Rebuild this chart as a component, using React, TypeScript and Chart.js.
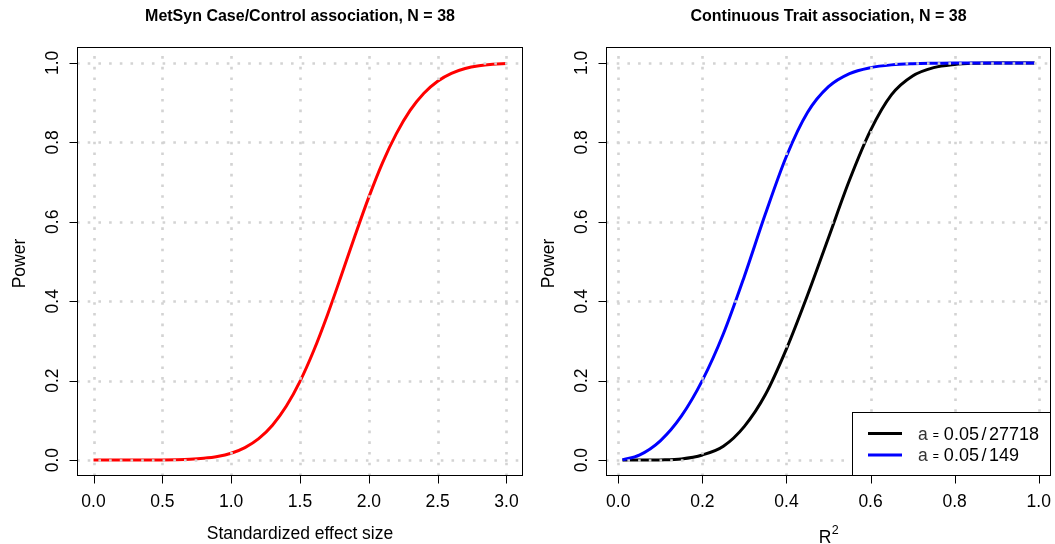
import React, { useEffect, useRef } from "react";
import { Chart, registerables } from "chart.js";

Chart.register(...registerables);

// ---------- data ----------
const leftTitle = "MetSyn Case/Control association, N = 38";
const rightTitle = "Continuous Trait association, N = 38";
const leftXLabel = "Standardized effect size";
const yLabel = "Power";

const effectSizes = [
  0.0, 0.1, 0.2, 0.3, 0.4, 0.5, 0.6, 0.7, 0.8, 0.9, 1.0, 1.1, 1.2, 1.3, 1.4, 1.5,
  1.6, 1.7, 1.8, 1.9, 2.0, 2.1, 2.2, 2.3, 2.4, 2.5, 2.6, 2.7, 2.8, 2.9, 3.0,
];
const caseControlPower = [
  0.0, 0.0, 0.0, 0.0001, 0.0002, 0.0004, 0.0009, 0.002, 0.0044, 0.0089, 0.0173,
  0.0314, 0.0539, 0.0878, 0.1354, 0.1982, 0.2759, 0.3662, 0.4646, 0.5655, 0.662,
  0.749, 0.822, 0.8804, 0.9237, 0.9539, 0.9736, 0.9857, 0.9927, 0.9965, 0.9984,
];

const r2Values = [
  0.01, 0.05, 0.1, 0.15, 0.2, 0.25, 0.3, 0.35, 0.4, 0.45, 0.5, 0.55, 0.6, 0.65,
  0.7, 0.75, 0.8, 0.85, 0.9, 0.95, 0.99,
];
// alpha = 0.05/27718 (black)
const powerStrict = [
  0.0, 0.0, 0.0005, 0.003, 0.013, 0.035, 0.085, 0.165, 0.28, 0.415, 0.56, 0.705,
  0.83, 0.92, 0.967, 0.988, 0.996, 0.999, 1.0, 1.0, 1.0,
];
// alpha = 0.05/149 (blue)
const powerLenient = [
  0.0006, 0.0126, 0.0486, 0.1106, 0.2006, 0.318, 0.463, 0.62, 0.765, 0.875,
  0.94, 0.973, 0.988, 0.995, 0.998, 0.9993, 1.0, 1.0, 1.0, 1.0, 1.0,
];

const leftXTicks = [0, 0.5, 1, 1.5, 2, 2.5, 3];
const rightXTicks = [0, 0.2, 0.4, 0.6, 0.8, 1];
const yTicks = [0, 0.2, 0.4, 0.6, 0.8, 1];

const legendDenoms = ["27718", "149"];
const legendColors = ["#000000", "#0000ff"];

// ---------- drawing helpers ----------
const FONT = '"Liberation Sans", Arial, Helvetica, sans-serif';

function rotText(ctx: CanvasRenderingContext2D, text: string, x: number, y: number) {
  ctx.save();
  ctx.translate(x, y);
  ctx.rotate(-Math.PI / 2);
  ctx.textAlign = "center";
  ctx.textBaseline = "alphabetic";
  ctx.fillText(text, 0, 0);
  ctx.restore();
}

const rBasePlugin = {
  id: "rBase",
  afterDatasetsDraw(chart: any, _args: any, opts: any) {
    const ctx: CanvasRenderingContext2D = chart.ctx;
    const a = chart.chartArea;
    const xs = chart.scales.x;
    const ys = chart.scales.y;
    ctx.save();

    // dotted light-gray grid (drawn over curves like R's grid())
    ctx.strokeStyle = "#d3d3d3";
    ctx.lineWidth = 2.6;
    ctx.lineCap = "butt";
    ctx.setLineDash([2.6, 8.1]);
    for (const v of opts.xTicks) {
      const px = Math.round(xs.getPixelForValue(v)) + 0.5;
      ctx.beginPath();
      ctx.moveTo(px, a.bottom);
      ctx.lineTo(px, a.top);
      ctx.stroke();
    }
    for (const v of yTicks) {
      const py = Math.round(ys.getPixelForValue(v)) + 0.5;
      ctx.beginPath();
      ctx.moveTo(a.left, py);
      ctx.lineTo(a.right, py);
      ctx.stroke();
    }
    ctx.setLineDash([]);

    // box
    ctx.strokeStyle = "#000";
    ctx.lineWidth = 1;
    ctx.strokeRect(a.left + 0.5, a.top + 0.5, a.right - a.left - 1, a.bottom - a.top - 1);

    // x axis
    const bx = a.bottom - 0.5;
    const x0 = Math.round(xs.getPixelForValue(opts.xTicks[0])) + 0.5;
    const x1 = Math.round(xs.getPixelForValue(opts.xTicks[opts.xTicks.length - 1])) + 0.5;
    ctx.beginPath();
    ctx.moveTo(x0, bx);
    ctx.lineTo(x1, bx);
    for (const v of opts.xTicks) {
      const px = Math.round(xs.getPixelForValue(v)) + 0.5;
      ctx.moveTo(px, bx);
      ctx.lineTo(px, bx + 8);
    }
    // y axis
    const lx = a.left + 0.5;
    const y0 = Math.round(ys.getPixelForValue(yTicks[0])) + 0.5;
    const y1 = Math.round(ys.getPixelForValue(yTicks[yTicks.length - 1])) + 0.5;
    ctx.moveTo(lx, y0);
    ctx.lineTo(lx, y1);
    for (const v of yTicks) {
      const py = Math.round(ys.getPixelForValue(v)) + 0.5;
      ctx.moveTo(lx, py);
      ctx.lineTo(lx - 8, py);
    }
    ctx.stroke();

    // tick labels
    ctx.fillStyle = "#000";
    ctx.font = `17.5px ${FONT}`;
    ctx.textAlign = "center";
    ctx.textBaseline = "alphabetic";
    for (const v of opts.xTicks) {
      ctx.fillText(v.toFixed(1), xs.getPixelForValue(v), 507);
    }
    for (const v of yTicks) {
      rotText(ctx, v.toFixed(1), a.left - 19, ys.getPixelForValue(v));
    }

    // axis titles
    ctx.font = `17.5px ${FONT}`;
    const cx = (a.left + a.right) / 2;
    const cy = (a.top + a.bottom) / 2 + 2;
    rotText(ctx, yLabel, a.left - 52, cy);
    if (opts.xLabelSup) {
      ctx.font = `17.5px ${FONT}`;
      const w1 = ctx.measureText(opts.xLabel).width;
      ctx.font = `12.5px ${FONT}`;
      const w2 = ctx.measureText(opts.xLabelSup).width;
      const start = cx - (w1 + w2) / 2;
      ctx.textAlign = "left";
      ctx.font = `17.5px ${FONT}`;
      ctx.fillText(opts.xLabel, start, 543);
      ctx.font = `12.5px ${FONT}`;
      ctx.fillText(opts.xLabelSup, start + w1 + 0.5, 534);
    } else {
      ctx.textAlign = "center";
      ctx.fillText(opts.xLabel, cx, 539);
    }

    // title
    ctx.textAlign = "center";
    ctx.font = `bold 16px ${FONT}`;
    ctx.fillText(opts.title, cx, 21);

    // legend
    if (opts.legend) {
      const lgL = a.right - 199;
      const lgT = a.bottom - 64;
      ctx.fillStyle = "#fff";
      ctx.fillRect(lgL, lgT, a.right - lgL, a.bottom - lgT);
      ctx.strokeStyle = "#000";
      ctx.lineWidth = 1;
      ctx.strokeRect(lgL + 0.5, lgT + 0.5, a.right - lgL - 1, a.bottom - lgT - 1);
      opts.legend.forEach((item: any, i: number) => {
        const ly = lgT + 21.5 + i * 21.5;
        ctx.strokeStyle = item.color;
        ctx.lineWidth = 3;
        ctx.beginPath();
        ctx.moveTo(lgL + 16, ly);
        ctx.lineTo(lgL + 50, ly);
        ctx.stroke();
        const base = ly + 6;
        let x = lgL + 66;
        ctx.textAlign = "left";
        ctx.fillStyle = "#333";
        ctx.font = `17.5px ${FONT}`;
        ctx.fillText("a", x, base);
        x += ctx.measureText("a").width + 5;
        ctx.fillStyle = "#000";
        ctx.font = `10.5px ${FONT}`;
        ctx.fillText("=", x, base - 1);
        x += ctx.measureText("=").width + 5;
        ctx.font = `18px ${FONT}`;
        ctx.fillText("0.05", x, base);
        x += ctx.measureText("0.05").width + 2.5;
        ctx.fillText("/", x, base);
        x += ctx.measureText("/").width + 2.5;
        ctx.fillText(item.denom, x, base);
      });
    }

    ctx.restore();
  },
};

type PanelProps = {
  width: number;
  padding: { left: number; right: number; top: number; bottom: number };
  xMin: number;
  xMax: number;
  datasets: any[];
  pluginOpts: any;
};

function Panel({ width, padding, xMin, xMax, datasets, pluginOpts }: PanelProps) {
  const ref = useRef<HTMLCanvasElement | null>(null);
  useEffect(() => {
    if (!ref.current) return;
    const chart = new Chart(ref.current, {
      type: "line",
      data: { datasets },
      options: {
        responsive: false,
        animation: false,
        devicePixelRatio: 1,
        layout: { padding },
        plugins: {
          legend: { display: false },
          tooltip: { enabled: false },
          title: { display: false },
          rBase: pluginOpts,
        } as any,
        elements: { point: { radius: 0 } },
        scales: {
          x: { type: "linear", min: xMin, max: xMax, display: false },
          y: { type: "linear", min: -0.04, max: 1.04, display: false },
        },
      },
      plugins: [rBasePlugin],
    });
    return () => chart.destroy();
  }, []);
  return <canvas ref={ref} width={width} height={544} style={{ width, height: 544, display: "block" }} />;
}

export default function App() {
  const leftData = [
    {
      data: effectSizes.map((x, i) => ({ x, y: caseControlPower[i] })),
      borderColor: "#ff0000",
      borderWidth: 3,
      pointRadius: 0,
      cubicInterpolationMode: "monotone",
      fill: false,
    },
  ];
  const rightData = [
    {
      data: r2Values.map((x, i) => ({ x, y: powerLenient[i] })),
      borderColor: "#0000ff",
      borderWidth: 3,
      pointRadius: 0,
      cubicInterpolationMode: "monotone",
      fill: false,
    },
    {
      data: r2Values.map((x, i) => ({ x, y: powerStrict[i] })),
      borderColor: "#000000",
      borderWidth: 3,
      pointRadius: 0,
      cubicInterpolationMode: "monotone",
      fill: false,
    },
  ];
  return (
    <div style={{ position: "absolute", left: 0, top: 0, width: 1055, height: 544, background: "#fff" }}>
      <div style={{ position: "absolute", left: 0, top: 0 }}>
        <Panel
          width={528}
          padding={{ left: 77, right: 5, top: 47, bottom: 68 }}
          xMin={-0.12}
          xMax={3.12}
          datasets={leftData}
          pluginOpts={{ title: leftTitle, xTicks: leftXTicks, xLabel: leftXLabel }}
        />
      </div>
      <div style={{ position: "absolute", left: 528, top: 0 }}>
        <Panel
          width={527}
          padding={{ left: 78, right: 4, top: 47, bottom: 68 }}
          xMin={-0.0292}
          xMax={1.0292}
          datasets={rightData}
          pluginOpts={{
            title: rightTitle,
            xTicks: rightXTicks,
            xLabel: "R",
            xLabelSup: "2",
            legend: legendDenoms.map((d, i) => ({ denom: d, color: legendColors[i] })),
          }}
        />
      </div>
    </div>
  );
}
